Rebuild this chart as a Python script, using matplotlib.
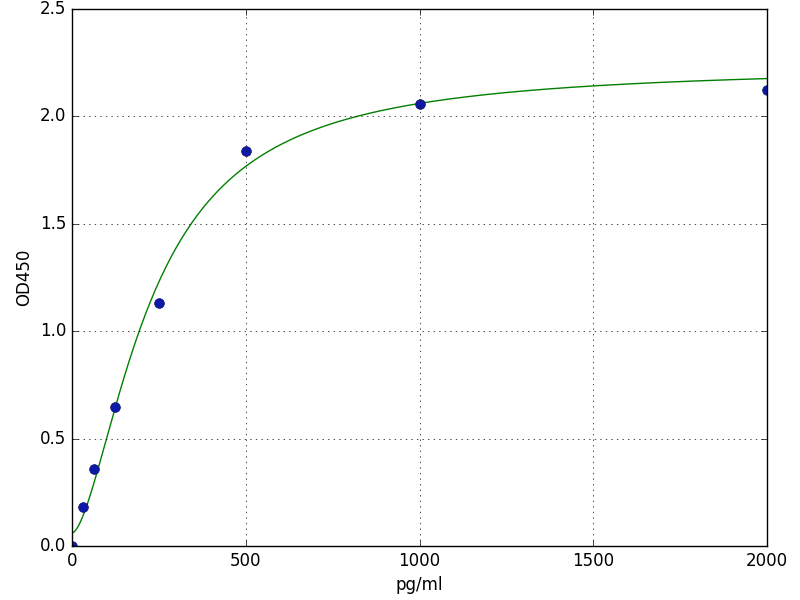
import matplotlib
matplotlib.use("Agg")
import matplotlib.pyplot as plt
import numpy as np

plt.style.use('classic')

conc = [0, 31.25, 62.5, 125, 250, 500, 1000, 2000]
od450 = [0.0, 0.18, 0.36, 0.645, 1.13, 1.84, 2.06, 2.125]

# 4PL fit parameters estimated from the reference curve
bottom = 0.06
top = 2.235
ec50 = 228.0
hill = 1.65

xfit = np.linspace(0, 2000, 400)
yfit = top + (bottom - top) / (1 + (xfit / ec50) ** hill)

fig = plt.figure(figsize=(8, 6), dpi=100)
ax = fig.add_axes([0.09, 0.09, 0.869, 0.895])
ax.plot(xfit, yfit, 'g-')
ax.plot(conc, od450, 'o', markersize=7, markerfacecolor='#0d1aa8',
        markeredgecolor='#0a0f70')
ax.set_xlim(0, 2000)
ax.set_ylim(0, 2.5)
ax.set_xticks([0, 500, 1000, 1500, 2000])
ax.set_yticks([0.0, 0.5, 1.0, 1.5, 2.0, 2.5])
ax.grid(True)
ax.set_xlabel('pg/ml')
ax.set_ylabel('OD450')

fig.savefig('out.png', dpi=100, facecolor='white')
